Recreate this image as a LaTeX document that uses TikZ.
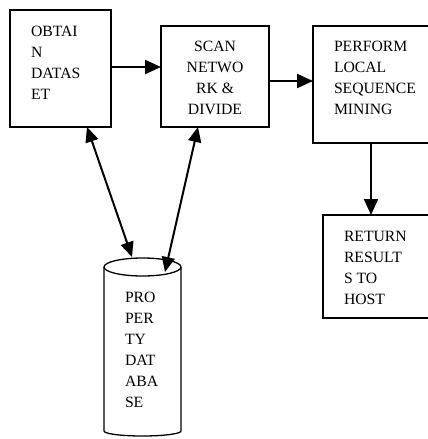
\documentclass[tikz,border=0pt]{standalone}
\usepackage{fontspec}
\setmainfont{Liberation Serif}
\usetikzlibrary{arrows.meta}
\begin{document}
\begin{tikzpicture}[x=1pt,y=-1pt,
  boxst/.style={draw,line width=1.8pt,inner sep=0pt,outer sep=0pt},
  txt/.style={inner sep=0pt,outer sep=0pt,font=\fontsize{15.7}{21}\selectfont},
  arr/.style={line width=2pt,-{Triangle[length=16pt,width=14pt]}},
  darr/.style={line width=2pt,{Triangle[length=15pt,width=13pt]}-{Triangle[length=15pt,width=13pt]}},
  cyl/.style={line width=1.3pt}]
\useasboundingbox (0,0) rectangle (428,439);
% boxes
\node[boxst,minimum width=101pt,minimum height=117pt] (b1) at (60.5,68.5) {};
\node[boxst,minimum width=108pt,minimum height=101pt] (b2) at (215,76.5) {};
\node[boxst,minimum width=137pt,minimum height=117pt] (b3) at (381.5,84.5) {};
\node[boxst,minimum width=127pt,minimum height=103pt] (b4) at (386.5,266.5) {};
% texts
\node[txt,anchor=base west] (t1) at (31,36) {\begin{tabular}[t]{@{}l@{}}OBTAI\\N\\DATAS\\ET\end{tabular}};
\node[txt,anchor=base] (t2) at (215,51) {\begin{tabular}[t]{@{}c@{}}SCAN\\NETWO\\RK \&\\DIVIDE\end{tabular}};
\node[txt,anchor=base west] (t3) at (334,51) {\begin{tabular}[t]{@{}l@{}}PERFORM\\LOCAL\\SEQUENCE\\MINING\end{tabular}};
\node[txt,anchor=base west] (t4) at (344,241) {\begin{tabular}[t]{@{}l@{}}RETURN\\RESULT\\S TO\\HOST\end{tabular}};
% cylinder
\draw[cyl] (104,267) -- (104,431) arc[start angle=180,end angle=360,x radius=38.5pt,y radius=5pt] -- (181,267);
\draw[cyl] (142.5,267) ellipse[x radius=38.5pt,y radius=9pt];
\node[txt,anchor=base west] (t5) at (125,302) {\begin{tabular}[t]{@{}l@{}}PRO\\PER\\TY\\DAT\\ABA\\SE\end{tabular}};
\coordinate (dbA) at (132,257);
\coordinate (dbB) at (165,272);
% connectors
\draw[arr] ([yshift=1.5pt]b1.east) -- ([yshift=1.5pt]b2.west |- b1.east);
\draw[arr] ([yshift=-4.5pt]b2.east) -- ([yshift=-4.5pt]b2.east -| b3.west);
\draw[arr] ([xshift=58pt]b3.south west) -- ([xshift=48pt]b4.north west);
\draw[darr] ([xshift=77pt]b1.south west) -- (dbA);
\draw[darr] ([xshift=37pt]b2.south west) -- (dbB);
\end{tikzpicture}
\end{document}
